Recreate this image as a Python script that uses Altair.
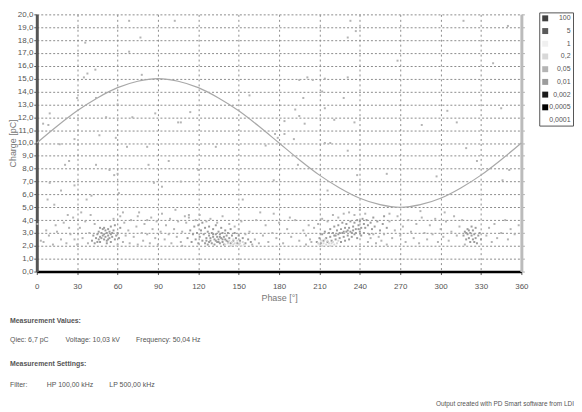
import altair as alt
import pandas as pd

# ---------------- data ----------------
levels = ["100", "5", "1", "0,2", "0,05", "0,01", "0,002", "0,0005", "0,0001"]
level_colors = ["#404040", "#5a5a5a", "#f0f0f0", "#d8d8d8", "#b4b4b4", "#9c9c9c", "#1a1a1a", "#000000", "#ffffff"]

sine_phase = [0, 15, 30, 45, 60, 75, 90, 105, 120, 135, 150, 165, 180, 195, 210, 225, 240, 255, 270, 285, 300, 315, 330, 345, 360]
sine_charge = [10.0, 11.3, 12.5, 13.5, 14.3, 14.8, 15.0, 14.8, 14.3, 13.5, 12.5, 11.3, 10.0, 8.7, 7.5, 6.5, 5.7, 5.2, 5.0, 5.2, 5.7, 6.5, 7.5, 8.7, 10.0]

# scattered single pulses (high charge)
high_phase = [68.6, 102.5, 36, 68.6, 77, 37.6, 43.5, 35, 78, 44, 9.6, 51.5, 71, 88, 107, 4.7, 8.6, 46.5, 58.7, 28, 17, 67, 82, 60, 30,
              233, 231, 237, 201, 214, 205, 195, 231, 212, 158, 198, 228, 192, 214, 221, 195, 199, 236, 184, 177, 184, 179, 191, 214, 218, 170, 133, 114, 105,
              339, 350, 317, 345, 319, 312, 351, 346, 260, 286, 268, 305, 327, 297, 238, 216, 231, 194, 176, 153, 120, 83, 54, 28, 13, 40.6, 113, 98,
              21, 24, 44, 57.5, 60, 9.6, 87, 93, 107, 18, 8, 37, 61, 64, 103, 75, 82, 23, 0.5]
high_charge = [19.5, 19.5, 17.8, 17.1, 18.2, 15.4, 15.7, 15.1, 15.3, 13.5, 12.3, 12.0, 12.0, 12.3, 11.6, 11.5, 11.4, 10.6, 10.4, 10.3, 9.9, 9.7, 9.7, 13.0, 13.5,
               19.5, 18.2, 18.7, 15.1, 15.0, 14.9, 14.9, 15.1, 14.0, 13.7, 13.5, 13.5, 12.6, 12.7, 11.8, 12.1, 11.5, 11.6, 11.7, 10.7, 10.7, 10.4, 10.3, 10.0, 10.0, 9.8, 9.7, 12.4, 11.6,
               16.2, 19.1, 19.5, 12.7, 9.6, 11.6, 7.9, 7.1, 7.6, 11.4, 16.4, 12.5, 8.6, 7.4, 7.5, 6.3, 9.4, 8.3, 7.1, 5.6, 7.9, 8.3, 7.9, 6.7, 5.2, 5.9, 4.4, 8.6,
               8.3, 8.6, 8.3, 7.5, 7.6, 6.9, 6.9, 6.6, 7.0, 6.3, 5.6, 5.6, 6.1, 4.6, 4.8, 4.3, 4.0, 4.4, 3.7]

# sparse low-charge pulses
low_phase = [3, 5, 9, 12, 15, 18, 20, 22, 25, 27, 30, 32, 34, 36, 38, 39, 40, 43, 57, 60, 62, 64, 65, 66, 68, 69, 70, 72, 74, 75, 76, 78, 79, 80,
             82, 84, 85, 86, 88, 89, 90, 92, 93, 95, 96, 98, 99, 100, 102, 104, 105, 107, 108, 110, 24, 14, 7, 28, 33,
             108, 111, 113, 118, 121, 126, 129, 134, 138, 143, 147, 150, 152, 155, 158, 160, 162, 165, 168, 170, 172, 175, 178, 180, 183, 186,
             189, 192, 195, 198, 200, 202, 204, 163, 176, 188, 166,
             200, 203, 206, 209, 212, 216, 220, 224, 228, 232, 236, 240, 244, 246, 248, 250, 252, 254, 256, 258, 260, 262, 264, 266, 268, 270,
             272, 274, 276, 278, 280, 282, 284, 286, 288, 290, 292, 294, 296, 298, 300, 302, 304, 306, 308, 310, 312, 314, 316, 318, 334, 336,
             338, 340, 342, 345, 348, 350, 352, 355, 358, 303, 285, 262]
low_charge = [2.4, 2.3, 2.8, 2.1, 3.1, 2.5, 3.8, 2.2, 2.9, 4.2, 2.1, 3.4, 2.6, 3.9, 2.2, 3.0, 4.4, 3.7, 4.1, 2.1, 4.3, 2.3, 3.8, 2.8, 3.2, 2.2, 4.0, 2.7, 3.5, 2.1, 4.6, 3.0, 2.4, 3.7,
              2.9, 2.2, 4.2, 3.3, 2.6, 3.9, 2.1, 3.1, 4.5, 2.5, 3.6, 2.9, 4.1, 2.2, 3.3, 2.7, 3.9, 2.3, 3.1, 4.3, 3.4, 3.6, 3.2, 2.5, 4.6,
              2.0, 3.8, 4.2, 4.0, 4.4, 3.9, 4.1, 3.8, 4.3, 3.7, 3.5, 3.3, 3.9, 2.9, 3.1, 2.1, 2.5, 2.2, 2.8, 3.6, 2.3, 3.0, 2.6, 3.8, 2.2, 3.3,
              2.7, 4.0, 2.4, 3.2, 2.8, 3.6, 2.3, 4.0, 4.5, 4.2, 4.6,
              2.1, 2.5, 3.4, 3.7, 4.1, 3.9, 4.4, 4.2, 4.5, 4.6, 4.4, 4.8, 4.5, 2.3, 2.6, 2.9, 2.2, 2.7, 2.4, 2.9, 2.1, 3.9, 2.6, 3.2, 4.3, 2.8,
              3.5, 2.3, 4.0, 3.1, 2.6, 3.7, 2.2, 4.2, 3.0, 2.5, 3.6, 2.9, 4.1, 2.3, 3.3, 2.7, 3.9, 2.4, 3.1, 4.3, 2.8, 3.5, 4.0, 2.1, 2.8, 3.4,
              2.3, 3.7, 2.6, 3.0, 4.0, 2.5, 3.3, 2.9, 3.6, 4.6, 4.7, 4.5]

# dense cluster cores
core_phase = [44, 45, 46, 46, 47, 47, 48, 48, 49, 49, 50, 50, 51, 51, 52, 52, 53, 53, 54, 54, 55, 55, 56, 57, 58, 58, 43, 42, 45, 50, 56, 52, 60, 61, 62, 59, 41, 47, 53, 55,
              112, 114, 115, 116, 117, 118, 119, 120, 120, 121, 122, 123, 123, 124, 125, 125, 126, 127, 127, 128, 128, 129, 130, 130, 131, 131, 132, 132,
              133, 133, 134, 134, 135, 135, 136, 136, 137, 137, 138, 138, 139, 139, 140, 140, 141, 142, 142, 143, 144, 144, 145, 146, 147, 148, 149, 150,
              151, 153, 155, 157, 159, 126, 129, 133, 136, 141, 128, 131, 135, 138,
              208, 210, 211, 212, 213, 214, 215, 216, 217, 218, 218, 219, 220, 221, 221, 222, 223, 224, 224, 225, 226, 226, 227, 227, 228, 229, 229, 230,
              230, 231, 232, 232, 233, 233, 234, 235, 235, 236, 236, 237, 238, 238, 239, 240, 240, 241, 241, 242, 243, 243, 244, 245, 246, 247, 248, 249,
              250, 251, 253, 255, 257, 258, 260, 228, 231, 234, 237, 239, 225, 222,
              317, 318, 319, 320, 320, 321, 322, 322, 323, 324, 324, 325, 326, 326, 327, 328, 329, 330, 323, 319, 325, 321]
core_charge = [2.6, 2.9, 2.5, 3.1, 2.7, 2.3, 3.0, 2.6, 2.8, 3.3, 2.5, 2.9, 3.2, 2.7, 2.4, 3.0, 3.3, 2.8, 2.6, 3.1, 2.9, 3.5, 2.7, 3.2, 2.5, 3.6, 2.2, 2.8, 2.3, 3.4, 3.0, 2.2, 3.0, 2.6, 3.4, 2.8, 2.4, 3.4, 2.5, 2.3,
               2.6, 3.2, 2.3, 2.9, 3.5, 2.5, 3.0, 2.2, 3.6, 2.7, 3.2, 2.4, 3.8, 2.9, 2.2, 3.4, 2.6, 3.1, 2.1, 2.8, 3.5, 2.4, 3.0, 2.2, 2.7, 3.3, 2.5, 2.1,
               2.9, 3.6, 2.3, 2.7, 3.1, 2.5, 2.2, 2.9, 3.4, 2.6, 2.3, 3.0, 2.7, 2.1, 3.2, 2.5, 2.8, 2.3, 3.0, 2.6, 2.2, 3.3, 2.8, 2.4, 3.0, 2.6, 2.2, 2.8,
               2.4, 2.6, 2.2, 2.5, 2.3, 2.4, 2.6, 2.4, 2.7, 2.4, 2.3, 2.9, 2.3, 2.5,
               2.3, 2.6, 2.2, 2.9, 2.4, 3.1, 2.6, 2.3, 3.0, 2.7, 3.3, 2.4, 3.0, 2.8, 3.5, 2.5, 3.2, 2.9, 3.6, 2.6, 3.3, 2.3, 3.0, 3.8, 2.7, 3.4, 2.4, 3.1,
               3.7, 2.8, 3.4, 2.5, 3.9, 3.1, 2.7, 3.5, 3.2, 2.9, 3.8, 3.3, 2.6, 4.0, 3.6, 3.1, 3.9, 2.8, 3.4, 4.1, 3.7, 3.0, 3.4, 4.0, 3.6, 2.9, 3.8, 3.3,
               4.2, 3.5, 3.9, 3.2, 3.7, 4.3, 3.4, 3.1, 3.2, 3.0, 3.0, 3.3, 3.0, 2.8,
               2.8, 3.1, 2.5, 2.9, 3.3, 2.6, 3.0, 2.3, 2.8, 3.2, 2.5, 2.9, 2.6, 3.4, 2.2, 2.8, 3.0, 2.5, 3.5, 3.0, 2.3, 3.2]

# light patches at the bottom of the clusters
light_phase = [140, 142, 144, 145, 146, 147, 148, 149, 150, 151, 152, 153, 143, 146, 154,
               210, 211, 212, 213, 214, 215, 216, 217, 218, 219, 220, 221, 223, 224, 209]
light_charge = [2.1, 2.2, 2.0, 2.3, 2.1, 2.2, 2.0, 2.4, 2.1, 2.2, 2.0, 2.3, 2.4, 2.5, 2.1,
                2.1, 2.4, 2.0, 2.2, 2.5, 2.1, 2.4, 2.2, 2.0, 2.2, 2.3, 2.1, 2.2, 2.4, 2.2]

y_ticks = list(range(0, 21))
x_ticks = list(range(0, 361, 30))

# ---------------- tables ----------------
pts = pd.concat([
    pd.DataFrame({"phase": high_phase, "charge": high_charge, "level": "0,05"}),
    pd.DataFrame({"phase": low_phase, "charge": low_charge, "level": "0,05"}),
    pd.DataFrame({"phase": core_phase, "charge": core_charge, "level": "0,01"}),
    pd.DataFrame({"phase": light_phase, "charge": light_charge, "level": "0,2"}),
], ignore_index=True)
sine = pd.DataFrame({"phase": sine_phase, "charge": sine_charge})

FONT = "Liberation Sans"
TXT = "#555555"
W, H = 488, 259

xscale = alt.Scale(domain=[0, 360], nice=False)
yscale = alt.Scale(domain=[0, 20], nice=False)

y_left = alt.Axis(values=y_ticks, labelExpr="replace(format(datum.value, '.1f'), '.', ',')",
                  title="Charge [pC]", titleFontSize=9, titleFontWeight="normal", titleColor="#777777",
                  titleX=-28, titleBaseline="top", titleAngle=-90,
                  labelFontSize=8, labelColor=TXT, labelPadding=1, labelFont=FONT,
                  domainColor="#555555", domainWidth=3, tickColor="#555555", tickSize=3,
                  grid=True, gridColor="#8c8c8c", gridDash=[2, 2], gridWidth=1)
y_right = alt.Axis(orient="right", values=y_ticks, labels=False, title=None, grid=False,
                   domainColor="#bbbbbb", domainWidth=3, tickColor="#aaaaaa", tickSize=3)
x_axis = alt.Axis(values=x_ticks, title="Phase [°]", titleFontSize=9, titleFontWeight="normal",
                  titleColor="#777777", titlePadding=3, labelFontSize=8, labelColor=TXT, labelPadding=8,
                  labelFont=FONT, titleFont=FONT, labelFlush=False, labelOverlap=False,
                  domainColor="#000000", domainWidth=2.5, tickColor="#555555", tickSize=3,
                  grid=True, gridColor="#8c8c8c", gridDash=[2, 3], gridWidth=1)

line = alt.Chart(sine).mark_line(color="#a8a8a8", strokeWidth=1.2, interpolate="monotone").encode(
    x=alt.X("phase:Q", scale=xscale, axis=x_axis),
    y=alt.Y("charge:Q", scale=yscale, axis=y_left),
)

points = alt.Chart(pts).mark_square(size=4, opacity=1).encode(
    x=alt.X("phase:Q", scale=xscale, axis=x_axis),
    y=alt.Y("charge:Q", scale=yscale, axis=y_right),
    color=alt.Color("level:N", scale=alt.Scale(domain=levels, range=level_colors),
                    legend=alt.Legend(orient="none", legendX=506, legendY=-2, title=None,
                                      symbolType="square", symbolSize=36, symbolStrokeWidth=0,
                                      labelFontSize=7, labelColor=TXT, labelFont=FONT,
                                      labelAlign="right", labelOffset=22,
                                      strokeColor="#555555", padding=2.5, rowPadding=4.8)),
)

# footer text
def txt(s, x, y, bold=False, align="left", size=7):
    return alt.Chart(pd.DataFrame({"t": [s]})).mark_text(
        align=align, baseline="middle", fontSize=size, font=FONT, color=TXT,
        fontWeight="bold" if bold else "normal").encode(text="t:N", x=alt.value(x), y=alt.value(y))

footer = [
    txt("Measurement Values:", -27, 309, bold=True),
    txt("Qiec: 6,7 pC", -27, 328),
    txt("Voltage: 10,03 kV", 29, 328),
    txt("Frequency: 50,04 Hz", 100, 328),
    txt("Measurement Settings:", -27, 352, bold=True),
    txt("Filter:", -27, 373),
    txt("HP 100,00 kHz", 10, 373),
    txt("LP 500,00 kHz", 73, 373),
    txt("Output created with PD Smart software from LDI", 541, 392, align="right", size=6.5),
]

chart = alt.layer(line, points, *footer).resolve_axis(y="independent").properties(
    width=W, height=H,
    autosize=alt.AutoSizeParams(type="none"),
    padding={"left": 29, "top": 5, "right": 53, "bottom": 138},
).configure(font=FONT).configure_view(stroke=None)

chart.save("out.html", embed_options={"renderer": "svg", "actions": False})
